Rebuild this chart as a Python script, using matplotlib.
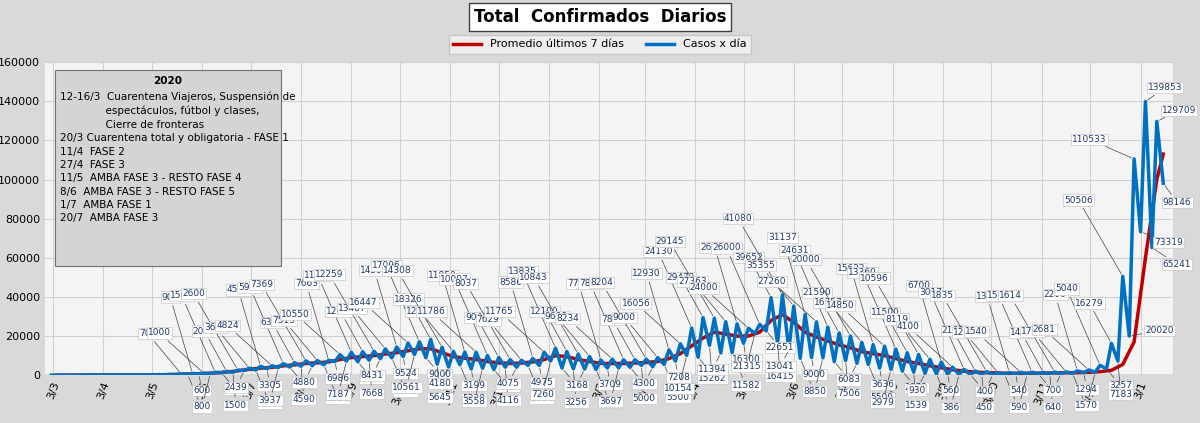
import matplotlib
matplotlib.use("Agg")
import matplotlib.pyplot as plt
from matplotlib.patches import Rectangle
import datetime as dt

start_week = dt.date(2020, 3, 2)
# per week: (weekend low on Monday, weekday high on Thursday)
weeks = [
    (1, 5), (5, 20), (30, 80), (60, 150), (80, 150), (80, 150), (90, 180), (80, 200), (100, 250), (150, 300),
    (200, 400), (300, 700), (424, 900), (600, 1000), (800, 1500), (1200, 2000), (1500, 2600), (2439, 3624), (2657, 4518), (3305, 4824),
    (3937, 5939), (4190, 6377), (4590, 7369), (4880, 7513), (5330, 7663), (6986, 10550), (7187, 11717), (6856, 12026), (7668, 12259), (8431, 13467),
    (8841, 14392), (9524, 16447), (10561, 17096), (9000, 18326), (5645, 14308), (4180, 12145), (5330, 11859), (3199, 11786), (3558, 10097), (2874, 9043),
    (4116, 8037), (4075, 7629), (5031, 8586), (4975, 11765), (7260, 13835), (3658, 12100), (3256, 10843), (3168, 9600), (2900, 7794), (3709, 8234),
    (3697, 7886), (4033, 7891), (5000, 8204), (4300, 9000), (5500, 12930), (7208, 16056), (10154, 24130), (9152, 29472), (15262, 29145), (11394, 27363),
    (11582, 26238), (16300, 24000), (21315, 26000), (22651, 39652), (16415, 41080), (13041, 35355), (8606, 31137), (9000, 27260), (8850, 24631), (6935, 21590),
    (7506, 20000), (6083, 16757), (5500, 15622), (3636, 14850), (2979, 13360), (2073, 11500), (1539, 10596), (930, 8119), (622, 6700), (560, 4100),
    (386, 3017), (331, 2162), (450, 1835), (400, 1284), (548, 1358), (540, 1540), (590, 1589), (593, 1440), (640, 1614), (700, 1755),
    (888, 2200), (1294, 2681), (1570, 5040), (3257, 16279), (7183, 50506), (20020, 110533), (73319, 139853), (65241, 129709),
]
avg7 = [2, 10, 50, 100, 110, 110, 130, 140, 170, 220, 300, 500, 700,
        850, 1200, 1600, 2200, 3000, 3600, 4000, 4800, 5300, 6000, 6300, 6800,
        8000, 9000, 9500, 10000, 10800, 11500, 12500, 13500, 13500, 11500,
        9500, 8700, 8000, 7000, 6300, 6000, 6200, 6800, 8000, 10000,
        9500, 8000, 7000, 6000, 6000, 6000, 6200, 6500, 7000, 8500,
        11000, 15000, 19000, 22000, 21000, 20000, 20000, 22000, 28000, 31000,
        27000, 22000, 19500, 17500, 15500, 14000, 12000, 11000, 10000, 8500,
        7000, 6000, 4800, 3800, 2800, 2000, 1600, 1300, 1100, 1000,
        1000, 1050, 1100, 1200, 1250, 1300, 1500, 1800, 2500, 5500,
        17000, 60000, 100000, 113000, 108000]
last_day_cases = 98146
xtick_labels = ["3/3", "3/4", "3/5", "3/6", "3/7", "3/8", "3/9", "3/10", "3/11", "3/12", "3/1", "3/2",
                "3/3", "3/4", "3/5", "3/6", "3/7", "3/8", "3/9", "3/10", "3/11", "3/12", "3/1"]
note_title = "2020"
note_lines = ["12-16/3  Cuarentena Viajeros, Suspensión de",
              "              espectáculos, fútbol y clases,",
              "              Cierre de fronteras",
              "20/3 Cuarentena total y obligatoria - FASE 1",
              "11/4  FASE 2", "27/4  FASE 3",
              "11/5  AMBA FASE 3 - RESTO FASE 4",
              "8/6  AMBA FASE 3 - RESTO FASE 5",
              "1/7  AMBA FASE 1", "20/7  AMBA FASE 3"]

nweeks = len(weeks)
dates, vals, kinds = [], [], []
for i, (lo, hi) in enumerate(weeks):
    w = start_week + dt.timedelta(days=7 * i)
    dates += [w, w + dt.timedelta(days=3)]
    vals += [lo, hi]
    kinds += ["t", "p"]
end_day = start_week + dt.timedelta(days=7 * (nweeks - 1) + 7)
dates.append(end_day); vals.append(last_day_cases); kinds.append("p")
avg_dates = [start_week + dt.timedelta(days=7 * i + 3) for i in range(nweeks)] + [end_day]

fig = plt.figure(figsize=(12, 4.23), dpi=100, facecolor="#d9d9d9")
ax = fig.add_axes([0.0375, 0.113, 0.94, 0.74])
ax.set_facecolor("#f4f4f4")
ax.plot(avg_dates, avg7[:len(avg_dates)], color="#c00000", lw=2.5, zorder=3, label="Promedio últimos 7 días")
ax.plot(dates, vals, color="#0070c0", lw=2.5, zorder=4, label="Casos x día")

ax.set_ylim(0, 160000)
ax.set_yticks(range(0, 160001, 20000))
ax.tick_params(axis="y", labelsize=8, length=0)
ax.set_xlim(dt.date(2020, 2, 27), dt.date(2022, 1, 23))
ticks = [dt.date(2020 + (2 + k) // 12, (2 + k) % 12 + 1, 3) for k in range(len(xtick_labels))]
ax.set_xticks(ticks)
ax.set_xticklabels(xtick_labels, rotation=70, fontsize=8)
ax.tick_params(axis="x", length=0)
ax.grid(True, color="#d0d0d0", lw=0.8)
for s in ax.spines.values():
    s.set_visible(False)
ax.axhline(0, color="#808080", lw=1, zorder=2)

box = dict(boxstyle="square,pad=0.12", fc="white", ec="#c8c8c8", lw=0.5)
start_lab = dt.date(2020, 5, 20)
big = dt.date(2021, 12, 25)
big_off = {50506: (-28, 12), 110533: (-32, 14), 139853: (14, 10), 129709: (16, 8),
           20020: (22, 4), 73319: (20, -8), 65241: (18, -12), 98146: (10, -14)}
j = 0
for d, v, k in zip(dates, vals, kinds):
    if d < start_lab:
        continue
    j += 1
    if d >= big:
        off = big_off.get(v, (20, 10))
    elif k == "p":
        off = (-16 - 8 * (j % 3), 16 + 13 * (j % 4))
    else:
        if j % 2:
            continue
        off = (-6 + 8 * (j % 3), -12 - 6 * (j % 4))
    ax.annotate(str(v), (d, v), xytext=off, textcoords="offset points", fontsize=6.5,
                color="#1f3864", ha="center", va="center", bbox=box, annotation_clip=False,
                arrowprops=dict(arrowstyle="-", color="#404040", lw=0.5), zorder=5)

ax.add_patch(Rectangle((0.009, 0.35), 0.20, 0.625, transform=ax.transAxes, fc="#d4d4d4",
                       ec="#707070", lw=0.8, zorder=6))
ax.text(0.109, 0.955, note_title, transform=ax.transAxes, fontsize=7.5, fontweight="bold",
        va="top", ha="center", zorder=8)
ax.text(0.013, 0.905, "\n".join(note_lines), transform=ax.transAxes, fontsize=7.5,
        va="top", ha="left", linespacing=1.42, zorder=8)

fig.text(0.5, 0.96, "Total  Confirmados  Diarios", ha="center", va="center", fontsize=12,
         fontweight="bold", bbox=dict(boxstyle="square,pad=0.3", fc="white", ec="#404040", lw=1))
fig.legend(loc="center", bbox_to_anchor=(0.5, 0.895), ncol=2, fontsize=8, frameon=True,
           fancybox=False, edgecolor="#c0c0c0", facecolor="#f4f4f4", handlelength=2.5)
fig.savefig("out.png", dpi=100, facecolor=fig.get_facecolor())
